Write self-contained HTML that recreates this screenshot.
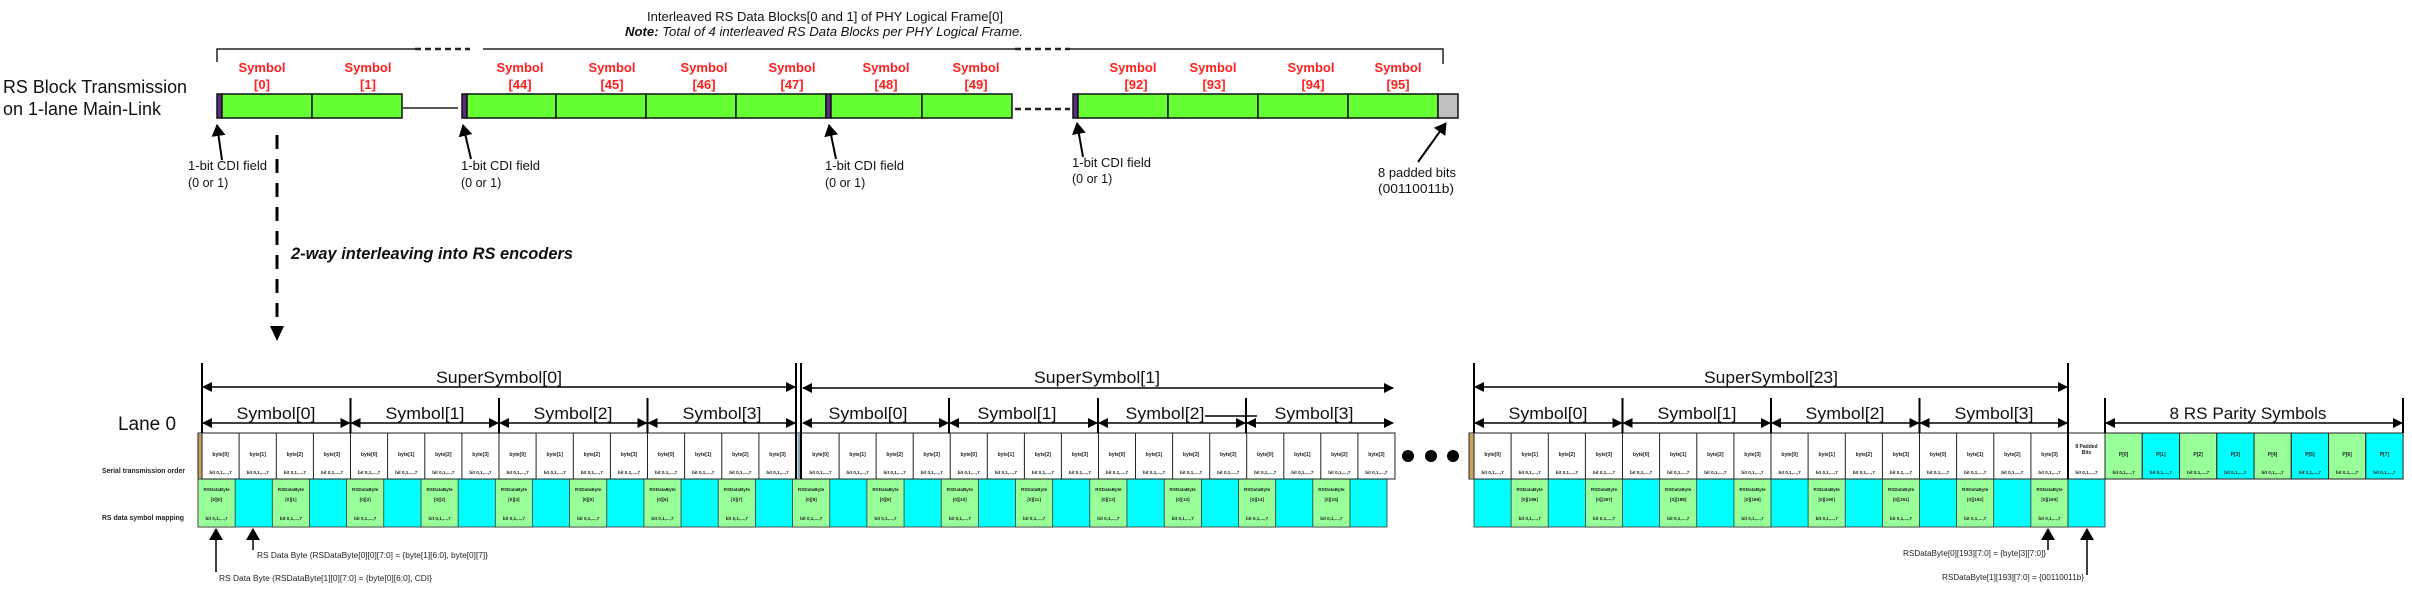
<!DOCTYPE html>
<html><head><meta charset="utf-8"><style>
html,body{margin:0;padding:0;background:#fff}
svg{display:block}
text{font-family:"Liberation Sans",sans-serif}
.r{fill:#ff2020;font-weight:bold;font-size:13px;text-anchor:middle}
.t{font-size:12.5px;fill:#111}
.big{font-size:17px;fill:#111;text-anchor:middle}
.tb{font-size:5px;font-weight:bold;fill:#222;text-anchor:middle}
.tg{font-size:4.6px;font-weight:bold;fill:#222;text-anchor:middle}
.sm{font-size:8px;fill:#222}
</style></head><body>
<svg width="2412" height="596" viewBox="0 0 2412 596" xmlns="http://www.w3.org/2000/svg">
<defs>
<marker id="ah" markerWidth="10" markerHeight="10" refX="9" refY="5" orient="auto" markerUnits="userSpaceOnUse"><path d="M0,0 L10,5 L0,10 z" fill="#000"/></marker>
<marker id="as" markerWidth="10" markerHeight="10" refX="1" refY="5" orient="auto" markerUnits="userSpaceOnUse"><path d="M10,0 L0,5 L10,10 z" fill="#000"/></marker>
<marker id="ca" markerWidth="12" markerHeight="14" refX="11" refY="7" orient="auto" markerUnits="userSpaceOnUse"><path d="M0,0 L12,7 L0,14 z" fill="#000"/></marker>
</defs>

<!-- TOP -->
<text x="825" y="21" class="t" text-anchor="middle" textLength="356" lengthAdjust="spacingAndGlyphs">Interleaved RS Data Blocks[0 and 1] of PHY Logical Frame[0]</text>
<text x="824" y="36" class="t" text-anchor="middle" font-style="italic" textLength="398" lengthAdjust="spacingAndGlyphs"><tspan font-weight="bold">Note:</tspan> Total of 4 interleaved RS Data Blocks per PHY Logical Frame.</text>
<path d="M217,62 V49 H415 M483,49 H1015 M1070,49 H1443 V64" fill="none" stroke="#222" stroke-width="1.5"/>
<line x1="415" y1="49" x2="470" y2="49" stroke="#222" stroke-width="2.5" stroke-dasharray="6,4"/>
<line x1="1015" y1="49" x2="1070" y2="49" stroke="#222" stroke-width="2.5" stroke-dasharray="6,4"/>

<text x="3" y="93" font-size="18" fill="#111" textLength="184" lengthAdjust="spacingAndGlyphs">RS Block Transmission</text>
<text x="3" y="115" font-size="18" fill="#111" textLength="158" lengthAdjust="spacingAndGlyphs">on 1-lane Main-Link</text>

<g stroke="#111" stroke-width="1.5">
<rect x="217" y="94" width="5" height="24" fill="#5b2c83"/>
<rect x="222" y="94" width="90" height="24" fill="#66ff33"/>
<rect x="312" y="94" width="90" height="24" fill="#66ff33"/>
<rect x="462" y="94" width="5" height="24" fill="#5b2c83"/>
<rect x="467" y="94" width="89" height="24" fill="#66ff33"/>
<rect x="556" y="94" width="90" height="24" fill="#66ff33"/>
<rect x="646" y="94" width="90" height="24" fill="#66ff33"/>
<rect x="736" y="94" width="90" height="24" fill="#66ff33"/>
<rect x="826" y="94" width="5" height="24" fill="#5b2c83"/>
<rect x="831" y="94" width="91" height="24" fill="#66ff33"/>
<rect x="922" y="94" width="90" height="24" fill="#66ff33"/>
<rect x="1073" y="94" width="5" height="24" fill="#5b2c83"/>
<rect x="1078" y="94" width="90" height="24" fill="#66ff33"/>
<rect x="1168" y="94" width="90" height="24" fill="#66ff33"/>
<rect x="1258" y="94" width="90" height="24" fill="#66ff33"/>
<rect x="1348" y="94" width="90" height="24" fill="#66ff33"/>
<rect x="1438" y="94" width="20" height="24" fill="#c0c0c0"/>
</g>
<line x1="403" y1="108" x2="458" y2="108" stroke="#222" stroke-width="1.5"/>
<line x1="1015" y1="109" x2="1070" y2="109" stroke="#222" stroke-width="2.5" stroke-dasharray="6,4"/>

<g>
<text class="r" x="262" y="72">Symbol</text><text class="r" x="262" y="89">[0]</text>
<text class="r" x="368" y="72">Symbol</text><text class="r" x="368" y="89">[1]</text>
<text class="r" x="520" y="72">Symbol</text><text class="r" x="520" y="89">[44]</text>
<text class="r" x="612" y="72">Symbol</text><text class="r" x="612" y="89">[45]</text>
<text class="r" x="704" y="72">Symbol</text><text class="r" x="704" y="89">[46]</text>
<text class="r" x="792" y="72">Symbol</text><text class="r" x="792" y="89">[47]</text>
<text class="r" x="886" y="72">Symbol</text><text class="r" x="886" y="89">[48]</text>
<text class="r" x="976" y="72">Symbol</text><text class="r" x="976" y="89">[49]</text>
<text class="r" x="1133" y="72">Symbol</text><text class="r" x="1136" y="89">[92]</text>
<text class="r" x="1213" y="72">Symbol</text><text class="r" x="1214" y="89">[93]</text>
<text class="r" x="1311" y="72">Symbol</text><text class="r" x="1313" y="89">[94]</text>
<text class="r" x="1398" y="72">Symbol</text><text class="r" x="1398" y="89">[95]</text>
</g>

<g stroke="#000" stroke-width="2" marker-end="url(#ca)">
<line x1="222" y1="160" x2="217" y2="125"/>
<line x1="471" y1="159" x2="463" y2="125"/>
<line x1="836" y1="159" x2="829" y2="125"/>
<line x1="1083" y1="157" x2="1077" y2="123"/>
<line x1="1418" y1="162" x2="1446" y2="123"/>
</g>
<g class="t">
<text x="188" y="170" textLength="79" lengthAdjust="spacingAndGlyphs">1-bit CDI field</text><text x="188" y="187">(0 or 1)</text>
<text x="461" y="170" textLength="79" lengthAdjust="spacingAndGlyphs">1-bit CDI field</text><text x="461" y="187">(0 or 1)</text>
<text x="825" y="170" textLength="79" lengthAdjust="spacingAndGlyphs">1-bit CDI field</text><text x="825" y="187">(0 or 1)</text>
<text x="1072" y="167" textLength="79" lengthAdjust="spacingAndGlyphs">1-bit CDI field</text><text x="1072" y="183">(0 or 1)</text>
<text x="1378" y="177" textLength="78" lengthAdjust="spacingAndGlyphs">8 padded bits</text><text x="1378" y="193" textLength="76" lengthAdjust="spacingAndGlyphs">(00110011b)</text>
</g>

<line x1="277" y1="135" x2="277" y2="326" stroke="#000" stroke-width="3" stroke-dasharray="14,10"/>
<polygon points="270,326 284,326 277,341" fill="#000"/>
<text x="291" y="259" font-size="17" font-weight="bold" font-style="italic" fill="#111" textLength="282" lengthAdjust="spacingAndGlyphs">2-way interleaving into RS encoders</text>

<!-- BOTTOM -->
<text x="147" y="430" font-size="19" fill="#111" text-anchor="middle">Lane 0</text>
<text x="102" y="473" font-size="7" font-weight="bold" fill="#222" textLength="83" lengthAdjust="spacingAndGlyphs">Serial transmission order</text>
<text x="102" y="520" font-size="7" font-weight="bold" fill="#222" textLength="82" lengthAdjust="spacingAndGlyphs">RS data symbol mapping</text>

<!-- data row -->
<g stroke="#333" stroke-width="0.8">
<rect x="198" y="479" width="1189" height="48" fill="#00ffff"/>
<rect x="1474" y="479" width="631" height="48" fill="#00ffff"/>
<g fill="#99ff99">
<rect x="198" y="479" width="37.16" height="48"/><rect x="272.3" y="479" width="37.16" height="48"/><rect x="346.6" y="479" width="37.16" height="48"/><rect x="421" y="479" width="37.16" height="48"/><rect x="495.3" y="479" width="37.16" height="48"/><rect x="569.6" y="479" width="37.16" height="48"/><rect x="643.9" y="479" width="37.16" height="48"/><rect x="718.2" y="479" width="37.16" height="48"/><rect x="792.6" y="479" width="37.16" height="48"/><rect x="866.9" y="479" width="37.16" height="48"/><rect x="941.2" y="479" width="37.16" height="48"/><rect x="1015.5" y="479" width="37.16" height="48"/><rect x="1089.8" y="479" width="37.16" height="48"/><rect x="1164.2" y="479" width="37.16" height="48"/><rect x="1238.5" y="479" width="37.16" height="48"/><rect x="1312.8" y="479" width="37.16" height="48"/>
<rect x="1511.1" y="479" width="37.1" height="48"/><rect x="1585.4" y="479" width="37.1" height="48"/><rect x="1659.6" y="479" width="37.1" height="48"/><rect x="1733.9" y="479" width="37.1" height="48"/><rect x="1808.1" y="479" width="37.1" height="48"/><rect x="1882.4" y="479" width="37.1" height="48"/><rect x="1956.6" y="479" width="37.1" height="48"/><rect x="2030.9" y="479" width="37.1" height="48"/>
</g>
<path d="M2068,479V527" fill="none"/>
</g>
<g class="tg">
<text x="216.6" y="491">RSDataByte</text><text x="216.6" y="501">[0][0]</text><text x="216.6" y="520">bit 0,1,...,7</text>
<text x="290.9" y="491">RSDataByte</text><text x="290.9" y="501">[0][1]</text><text x="290.9" y="520">bit 0,1,...,7</text>
<text x="365.2" y="491">RSDataByte</text><text x="365.2" y="501">[0][2]</text><text x="365.2" y="520">bit 0,1,...,7</text>
<text x="439.6" y="491">RSDataByte</text><text x="439.6" y="501">[0][3]</text><text x="439.6" y="520">bit 0,1,...,7</text>
<text x="513.9" y="491">RSDataByte</text><text x="513.9" y="501">[0][4]</text><text x="513.9" y="520">bit 0,1,...,7</text>
<text x="588.2" y="491">RSDataByte</text><text x="588.2" y="501">[0][5]</text><text x="588.2" y="520">bit 0,1,...,7</text>
<text x="662.5" y="491">RSDataByte</text><text x="662.5" y="501">[0][6]</text><text x="662.5" y="520">bit 0,1,...,7</text>
<text x="736.8" y="491">RSDataByte</text><text x="736.8" y="501">[0][7]</text><text x="736.8" y="520">bit 0,1,...,7</text>
<text x="811.2" y="491">RSDataByte</text><text x="811.2" y="501">[0][8]</text><text x="811.2" y="520">bit 0,1,...,7</text>
<text x="885.5" y="491">RSDataByte</text><text x="885.5" y="501">[0][9]</text><text x="885.5" y="520">bit 0,1,...,7</text>
<text x="959.8" y="491">RSDataByte</text><text x="959.8" y="501">[0][10]</text><text x="959.8" y="520">bit 0,1,...,7</text>
<text x="1034.1" y="491">RSDataByte</text><text x="1034.1" y="501">[0][11]</text><text x="1034.1" y="520">bit 0,1,...,7</text>
<text x="1108.4" y="491">RSDataByte</text><text x="1108.4" y="501">[0][12]</text><text x="1108.4" y="520">bit 0,1,...,7</text>
<text x="1182.7" y="491">RSDataByte</text><text x="1182.7" y="501">[0][13]</text><text x="1182.7" y="520">bit 0,1,...,7</text>
<text x="1257.1" y="491">RSDataByte</text><text x="1257.1" y="501">[0][14]</text><text x="1257.1" y="520">bit 0,1,...,7</text>
<text x="1331.4" y="491">RSDataByte</text><text x="1331.4" y="501">[0][15]</text><text x="1331.4" y="520">bit 0,1,...,7</text>
<text x="1529.7" y="491">RSDataByte</text><text x="1529.7" y="501">[0][186]</text><text x="1529.7" y="520">bit 0,1,...,7</text>
<text x="1604" y="491">RSDataByte</text><text x="1604" y="501">[0][187]</text><text x="1604" y="520">bit 0,1,...,7</text>
<text x="1678.2" y="491">RSDataByte</text><text x="1678.2" y="501">[0][188]</text><text x="1678.2" y="520">bit 0,1,...,7</text>
<text x="1752.5" y="491">RSDataByte</text><text x="1752.5" y="501">[0][189]</text><text x="1752.5" y="520">bit 0,1,...,7</text>
<text x="1826.7" y="491">RSDataByte</text><text x="1826.7" y="501">[0][190]</text><text x="1826.7" y="520">bit 0,1,...,7</text>
<text x="1901" y="491">RSDataByte</text><text x="1901" y="501">[0][191]</text><text x="1901" y="520">bit 0,1,...,7</text>
<text x="1975.2" y="491">RSDataByte</text><text x="1975.2" y="501">[0][192]</text><text x="1975.2" y="520">bit 0,1,...,7</text>
<text x="2049.5" y="491">RSDataByte</text><text x="2049.5" y="501">[0][193]</text><text x="2049.5" y="520">bit 0,1,...,7</text>
</g>

<!-- byte row -->
<g stroke="#222" stroke-width="1">
<rect x="198" y="433" width="1197" height="46" fill="#fff"/>
<rect x="1469" y="433" width="636" height="46" fill="#fff"/>
<g fill="#99ff99"><rect x="2105" y="433" width="37.25" height="46"/><rect x="2179.5" y="433" width="37.25" height="46"/><rect x="2254" y="433" width="37.25" height="46"/><rect x="2328.5" y="433" width="37.25" height="46"/></g>
<g fill="#00ffff"><rect x="2142.3" y="433" width="37.25" height="46"/><rect x="2216.8" y="433" width="37.25" height="46"/><rect x="2291.3" y="433" width="37.25" height="46"/><rect x="2365.8" y="433" width="37.25" height="46"/></g>
<path fill="none" d="M202,433V479 M239.1,433V479 M276.3,433V479 M313.4,433V479 M350.5,433V479 M387.6,433V479 M424.8,433V479 M461.9,433V479 M499,433V479 M536.1,433V479 M573.3,433V479 M610.4,433V479 M647.5,433V479 M684.6,433V479 M721.8,433V479 M758.9,433V479
M839.1,433V479 M876.1,433V479 M913.2,433V479 M950.2,433V479 M987.3,433V479 M1024.4,433V479 M1061.4,433V479 M1098.5,433V479 M1135.5,433V479 M1172.6,433V479 M1209.7,433V479 M1246.7,433V479 M1283.8,433V479 M1320.8,433V479 M1357.9,433V479
M1474,433V479 M1511.1,433V479 M1548.3,433V479 M1585.4,433V479 M1622.5,433V479 M1659.6,433V479 M1696.8,433V479 M1733.9,433V479 M1771,433V479 M1808.1,433V479 M1845.3,433V479 M1882.4,433V479 M1919.5,433V479 M1956.6,433V479 M1993.8,433V479 M2030.9,433V479"/>
</g>
<rect x="198.5" y="434" width="3" height="44" fill="#c9a060"/>
<rect x="797.5" y="434" width="3" height="44" fill="#8ab"/>
<rect x="1469.5" y="434" width="4" height="44" fill="#c9a060"/>
<g class="tb">
<text x="220.6" y="456">byte[0]</text><text x="257.7" y="456">byte[1]</text><text x="294.8" y="456">byte[2]</text><text x="332" y="456">byte[3]</text><text x="369.1" y="456">byte[0]</text><text x="406.2" y="456">byte[1]</text><text x="443.3" y="456">byte[2]</text><text x="480.5" y="456">byte[3]</text><text x="517.6" y="456">byte[0]</text><text x="554.7" y="456">byte[1]</text><text x="591.8" y="456">byte[2]</text><text x="629" y="456">byte[3]</text><text x="666.1" y="456">byte[0]</text><text x="703.2" y="456">byte[1]</text><text x="740.3" y="456">byte[2]</text><text x="777.5" y="456">byte[3]</text>
<text x="820.5" y="456">byte[0]</text><text x="857.6" y="456">byte[1]</text><text x="894.6" y="456">byte[2]</text><text x="931.7" y="456">byte[3]</text><text x="968.7" y="456">byte[0]</text><text x="1005.8" y="456">byte[1]</text><text x="1042.9" y="456">byte[2]</text><text x="1079.9" y="456">byte[3]</text><text x="1117" y="456">byte[0]</text><text x="1154" y="456">byte[1]</text><text x="1191.1" y="456">byte[2]</text><text x="1228.2" y="456">byte[3]</text><text x="1265.2" y="456">byte[0]</text><text x="1302.3" y="456">byte[1]</text><text x="1339.3" y="456">byte[2]</text><text x="1376.4" y="456">byte[3]</text>
<text x="1492.6" y="456">byte[0]</text><text x="1529.7" y="456">byte[1]</text><text x="1566.8" y="456">byte[2]</text><text x="1604" y="456">byte[3]</text><text x="1641.1" y="456">byte[0]</text><text x="1678.2" y="456">byte[1]</text><text x="1715.3" y="456">byte[2]</text><text x="1752.5" y="456">byte[3]</text><text x="1789.6" y="456">byte[0]</text><text x="1826.7" y="456">byte[1]</text><text x="1863.8" y="456">byte[2]</text><text x="1901" y="456">byte[3]</text><text x="1938.1" y="456">byte[0]</text><text x="1975.2" y="456">byte[1]</text><text x="2012.3" y="456">byte[2]</text><text x="2049.5" y="456">byte[3]</text>
<text x="2086.5" y="448">8 Padded</text><text x="2086.5" y="454">Bits</text>
<text x="2123.6" y="456">P[0]</text><text x="2160.9" y="456">P[1]</text><text x="2198.1" y="456">P[2]</text><text x="2235.4" y="456">P[3]</text><text x="2272.6" y="456">P[4]</text><text x="2309.9" y="456">P[5]</text><text x="2347.1" y="456">P[6]</text><text x="2384.4" y="456">P[7]</text>
</g>
<g class="tg">
<text x="220.6" y="474">bit 0,1,...,7</text><text x="257.7" y="474">bit 0,1,...,7</text><text x="294.8" y="474">bit 0,1,...,7</text><text x="332" y="474">bit 0,1,...,7</text><text x="369.1" y="474">bit 0,1,...,7</text><text x="406.2" y="474">bit 0,1,...,7</text><text x="443.3" y="474">bit 0,1,...,7</text><text x="480.5" y="474">bit 0,1,...,7</text><text x="517.6" y="474">bit 0,1,...,7</text><text x="554.7" y="474">bit 0,1,...,7</text><text x="591.8" y="474">bit 0,1,...,7</text><text x="629" y="474">bit 0,1,...,7</text><text x="666.1" y="474">bit 0,1,...,7</text><text x="703.2" y="474">bit 0,1,...,7</text><text x="740.3" y="474">bit 0,1,...,7</text><text x="777.5" y="474">bit 0,1,...,7</text>
<text x="820.5" y="474">bit 0,1,...,7</text><text x="857.6" y="474">bit 0,1,...,7</text><text x="894.6" y="474">bit 0,1,...,7</text><text x="931.7" y="474">bit 0,1,...,7</text><text x="968.7" y="474">bit 0,1,...,7</text><text x="1005.8" y="474">bit 0,1,...,7</text><text x="1042.9" y="474">bit 0,1,...,7</text><text x="1079.9" y="474">bit 0,1,...,7</text><text x="1117" y="474">bit 0,1,...,7</text><text x="1154" y="474">bit 0,1,...,7</text><text x="1191.1" y="474">bit 0,1,...,7</text><text x="1228.2" y="474">bit 0,1,...,7</text><text x="1265.2" y="474">bit 0,1,...,7</text><text x="1302.3" y="474">bit 0,1,...,7</text><text x="1339.3" y="474">bit 0,1,...,7</text><text x="1376.4" y="474">bit 0,1,...,7</text>
<text x="1492.6" y="474">bit 0,1,...,7</text><text x="1529.7" y="474">bit 0,1,...,7</text><text x="1566.8" y="474">bit 0,1,...,7</text><text x="1604" y="474">bit 0,1,...,7</text><text x="1641.1" y="474">bit 0,1,...,7</text><text x="1678.2" y="474">bit 0,1,...,7</text><text x="1715.3" y="474">bit 0,1,...,7</text><text x="1752.5" y="474">bit 0,1,...,7</text><text x="1789.6" y="474">bit 0,1,...,7</text><text x="1826.7" y="474">bit 0,1,...,7</text><text x="1863.8" y="474">bit 0,1,...,7</text><text x="1901" y="474">bit 0,1,...,7</text><text x="1938.1" y="474">bit 0,1,...,7</text><text x="1975.2" y="474">bit 0,1,...,7</text><text x="2012.3" y="474">bit 0,1,...,7</text><text x="2049.5" y="474">bit 0,1,...,7</text>
<text x="2086.5" y="474">bit 0,1,...,7</text>
<text x="2123.6" y="474">bit 0,1,...,7</text><text x="2160.9" y="474">bit 0,1,...,7</text><text x="2198.1" y="474">bit 0,1,...,7</text><text x="2235.4" y="474">bit 0,1,...,7</text><text x="2272.6" y="474">bit 0,1,...,7</text><text x="2309.9" y="474">bit 0,1,...,7</text><text x="2347.1" y="474">bit 0,1,...,7</text><text x="2384.4" y="474">bit 0,1,...,7</text>
</g>

<!-- dimension lines -->
<g stroke="#000" stroke-width="2" fill="none">
<path d="M202,363V433 M796,363V479 M801,363V479 M1474,363V433 M2068,363V479 M2105,398V433 M2403,398V433
M350.5,398V433 M499,398V433 M647.5,398V433
M949,398V433 M1098,398V433 M1246,398V433
M1622.5,398V433 M1771,398V433 M1919.5,398V433"/>
<path d="M1205,416H1257" stroke-width="1.5"/>
</g>
<g stroke="#000" stroke-width="1.5" marker-start="url(#as)" marker-end="url(#ah)">
<line x1="203" y1="387" x2="795" y2="387"/>
<line x1="803" y1="388" x2="1393" y2="388"/>
<line x1="1475" y1="387" x2="2067" y2="387"/>
<line x1="203" y1="423" x2="349.5" y2="423"/><line x1="351.5" y1="423" x2="498" y2="423"/><line x1="500" y1="423" x2="646.5" y2="423"/><line x1="648.5" y1="423" x2="795" y2="423"/>
<line x1="803" y1="423" x2="948" y2="423"/><line x1="950" y1="423" x2="1097" y2="423"/><line x1="1099" y1="423" x2="1245" y2="423"/><line x1="1247" y1="423" x2="1393" y2="423"/>
<line x1="1475" y1="423" x2="1621.5" y2="423"/><line x1="1623.5" y1="423" x2="1770" y2="423"/><line x1="1772" y1="423" x2="1918.5" y2="423"/><line x1="1920.5" y1="423" x2="2067" y2="423"/>
<line x1="2106" y1="423" x2="2402" y2="423"/>
</g>
<g class="big">
<text x="499" y="383" textLength="126" lengthAdjust="spacingAndGlyphs">SuperSymbol[0]</text>
<text x="1097" y="383" textLength="126" lengthAdjust="spacingAndGlyphs">SuperSymbol[1]</text>
<text x="1771" y="383" textLength="134" lengthAdjust="spacingAndGlyphs">SuperSymbol[23]</text>
<text x="276" y="419" textLength="79" lengthAdjust="spacingAndGlyphs">Symbol[0]</text>
<text x="425" y="419" textLength="79" lengthAdjust="spacingAndGlyphs">Symbol[1]</text>
<text x="573" y="419" textLength="79" lengthAdjust="spacingAndGlyphs">Symbol[2]</text>
<text x="722" y="419" textLength="79" lengthAdjust="spacingAndGlyphs">Symbol[3]</text>
<text x="868" y="419" textLength="79" lengthAdjust="spacingAndGlyphs">Symbol[0]</text>
<text x="1017" y="419" textLength="79" lengthAdjust="spacingAndGlyphs">Symbol[1]</text>
<text x="1165" y="419" textLength="79" lengthAdjust="spacingAndGlyphs">Symbol[2]</text>
<text x="1314" y="419" textLength="79" lengthAdjust="spacingAndGlyphs">Symbol[3]</text>
<text x="1548" y="419" textLength="79" lengthAdjust="spacingAndGlyphs">Symbol[0]</text>
<text x="1697" y="419" textLength="79" lengthAdjust="spacingAndGlyphs">Symbol[1]</text>
<text x="1845" y="419" textLength="79" lengthAdjust="spacingAndGlyphs">Symbol[2]</text>
<text x="1994" y="419" textLength="79" lengthAdjust="spacingAndGlyphs">Symbol[3]</text>
<text x="2248" y="419" textLength="157" lengthAdjust="spacingAndGlyphs">8 RS Parity Symbols</text>
</g>

<circle cx="1408" cy="456" r="6" fill="#000"/><circle cx="1431" cy="456" r="6" fill="#000"/><circle cx="1453" cy="456" r="6" fill="#000"/>

<g stroke="#000" stroke-width="1.5" marker-end="url(#ca)">
<line x1="216" y1="572" x2="216" y2="529"/>
<line x1="253" y1="550" x2="253" y2="529"/>
<line x1="2048" y1="550" x2="2048" y2="529"/>
<line x1="2087" y1="575" x2="2087" y2="529"/>
</g>
<text class="sm" x="257" y="558" textLength="231" lengthAdjust="spacingAndGlyphs">RS Data Byte (RSDataByte[0][0][7:0] = {byte[1][6:0], byte[0][7]}</text>
<text class="sm" x="219" y="581" textLength="213" lengthAdjust="spacingAndGlyphs">RS Data Byte (RSDataByte[1][0][7:0] = {byte[0][6:0], CDI}</text>
<text class="sm" x="1903" y="556" textLength="143" lengthAdjust="spacingAndGlyphs">RSDataByte[0][193][7:0] = {byte[3][7:0]}</text>
<text class="sm" x="1942" y="580" textLength="142" lengthAdjust="spacingAndGlyphs">RSDataByte[1][193][7:0] = {00110011b}</text>
</svg>
</body></html>
